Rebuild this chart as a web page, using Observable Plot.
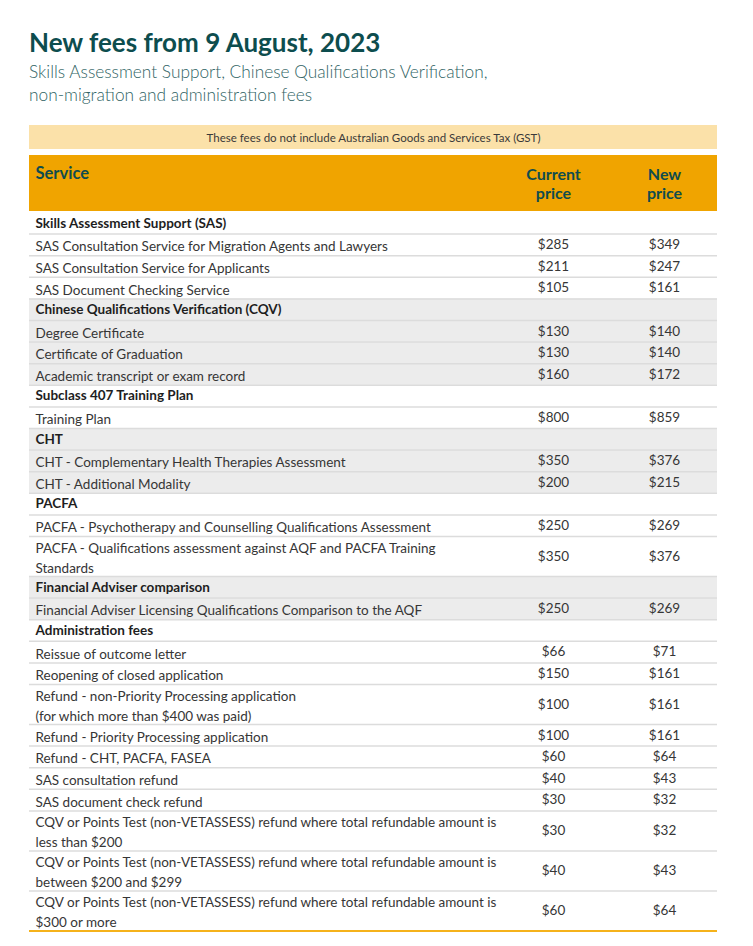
<!DOCTYPE html>
<html>
<head>
<meta charset="utf-8">
<script src="https://cdn.jsdelivr.net/npm/d3@7"></script>
<script src="https://cdn.jsdelivr.net/npm/@observablehq/plot@0.6"></script>
<style>
  html, body { margin: 0; padding: 0; background: #fff; width: 753px; height: 946px; overflow: hidden; }
  body { position: relative; font-family: Lato, "Noto Sans", sans-serif; }
  #title { position: absolute; left: 29px; top: 27px; font-size: 26px; line-height: 30px; font-weight: 700; color: #0d4d4e; white-space: nowrap; }
  #subtitle { position: absolute; left: 29px; top: 60px; font-size: 17.3px; line-height: 23px; font-weight: 300; color: #2f6364; }
  #chart { position: absolute; left: 0; top: 120px; }
</style>
</head>
<body>
<div id="title"></div>
<div id="subtitle"></div>
<div id="chart"></div>
<script>
const titleText = "New fees from 9 August, 2023";
const subtitleLines = ["Skills Assessment Support, Chinese Qualifications Verification,", "non-migration and administration fees"];
const noteText = "These fees do not include Australian Goods and Services Tax (GST)";
const columnLabels = ["Service", "Current\nprice", "New\nprice"];

const sectionNames = [
  "Skills Assessment Support (SAS)",
  "Chinese Qualifications Verification (CQV)",
  "Subclass 407 Training Plan",
  "CHT",
  "PACFA",
  "Financial Adviser comparison",
  "Administration fees"
];

const serviceNames = [
  "SAS Consultation Service for Migration Agents and Lawyers",
  "SAS Consultation Service for Applicants",
  "SAS Document Checking Service",
  "Degree Certificate",
  "Certificate of Graduation",
  "Academic transcript or exam record",
  "Training Plan",
  "CHT - Complementary Health Therapies Assessment",
  "CHT - Additional Modality",
  "PACFA - Psychotherapy and Counselling Qualifications Assessment",
  "PACFA - Qualifications assessment against AQF and PACFA Training\nStandards",
  "Financial Adviser Licensing Qualifications Comparison to the AQF",
  "Reissue of outcome letter",
  "Reopening of closed application",
  "Refund - non-Priority Processing application\n(for which more than $400 was paid)",
  "Refund - Priority Processing application",
  "Refund - CHT, PACFA, FASEA",
  "SAS consultation refund",
  "SAS document check refund",
  "CQV or Points Test (non-VETASSESS) refund where total refundable amount is\nless than $200",
  "CQV or Points Test (non-VETASSESS) refund where total refundable amount is\nbetween $200 and $299",
  "CQV or Points Test (non-VETASSESS) refund where total refundable amount is\n$300 or more"
];

const serviceSection = [0,0,0,1,1,1,2,3,3,4,4,5,6,6,6,6,6,6,6,6,6,6];
const currentPrice = [285,211,105,130,130,160,800,350,200,250,350,250,66,150,100,100,60,40,30,30,40,60];
const newPrice     = [349,247,161,140,140,172,859,376,215,269,376,269,71,161,161,161,64,43,32,32,43,64];

// ---- layout (pixels within the SVG) ----
const bandTop = 5, bandBottom = 29;
const headTop = 35, headBottom = 91;
const rowsTop = 92;
const singleH = 21.6, extraLineH = 18.4;

const rows = [];
let yCursor = rowsTop;
sectionNames.forEach((sec, si) => {
  const push = (name, cur, nw, isHeader) => {
    const lines = name.split("\n").length;
    const h = singleH + extraLineH * (lines - 1);
    rows.push({name, cur, nw, isHeader, section: si, y1: yCursor, y2: yCursor + h, yc: yCursor + h / 2});
    yCursor += h;
  };
  push(sec, null, null, true);
  serviceNames.forEach((s, i) => {
    if (serviceSection[i] === si) push(s, currentPrice[i], newPrice[i], false);
  });
});
rows[rows.length - 1].last = true;
const totalH = 826;

const colX = {service: 0, current: 0.7616, nw: 0.9230};
const fmt = v => "$" + v;

const grayRows = rows.filter(r => r.section % 2 === 1);
const dataRows = rows.filter(r => !r.isHeader);
const headerRows = rows.filter(r => r.isHeader);

const chart = Plot.plot({
  width: 753,
  height: totalH,
  margin: 0,
  x: {domain: [0, 1], range: [29, 717], axis: null},
  y: {domain: [0, totalH], range: [0, totalH], axis: null},
  style: {fontFamily: "Lato, 'Noto Sans', sans-serif", fontSize: "13.5px", background: "transparent"},
  marks: [
    // GST note band
    Plot.rect([noteText], {x1: () => 0, x2: () => 1, y1: () => bandTop, y2: () => bandBottom, fill: "#fbe1a9"}),
    Plot.text([noteText], {x: () => 0.5, y: () => (bandTop + bandBottom) / 2 + 1, text: d => d, fontSize: 11.5, fill: "#3a3a3a", textAnchor: "middle"}),
    // header band
    Plot.rect([0], {x1: () => 0, x2: () => 1, y1: () => headTop, y2: () => headBottom, fill: "#f0a400"}),
    Plot.text([columnLabels[0]], {x: () => colX.service, dx: 6, y: () => headTop + 12, text: d => d, lineAnchor: "top", textAnchor: "start", fontWeight: 700, fontSize: 16.5, fill: "#0f4c4e"}),
    Plot.text([columnLabels[1]], {x: () => colX.current, y: () => headTop + 11, text: d => d, lineAnchor: "top", textAnchor: "middle", fontWeight: 700, fontSize: 16, lineHeight: 1.2, fill: "#0f4c4e"}),
    Plot.text([columnLabels[2]], {x: () => colX.nw, y: () => headTop + 11, text: d => d, lineAnchor: "top", textAnchor: "middle", fontWeight: 700, fontSize: 16, lineHeight: 1.2, fill: "#0f4c4e"}),
    // gray section backgrounds
    Plot.rect(grayRows, {x1: () => 0, x2: () => 1, y1: "y1", y2: "y2", fill: "#ececec"}),
    // row separators
    Plot.ruleY(rows.filter(r => !r.last), {y: "y2", x1: () => 0, x2: () => 1, stroke: "#dcdcdc", strokeWidth: 1.5}),
    Plot.ruleY(rows.filter(r => r.last), {y: "y2", x1: () => 0, x2: () => 1, stroke: "#f5b21b", strokeWidth: 2}),
    // section headers
    Plot.text(headerRows, {x: () => colX.service, dx: 6, y: "yc", text: "name", textAnchor: "start", fontWeight: 700, fill: "#1e1e1e"}),
    // service names
    Plot.text(dataRows, {x: () => colX.service, dx: 6, y: "yc", text: "name", textAnchor: "start", lineHeight: 1.48, fill: "#363636"}),
    // prices
    Plot.text(dataRows, {x: () => colX.current, y: "yc", text: d => fmt(d.cur), textAnchor: "middle", fill: "#363636"}),
    Plot.text(dataRows, {x: () => colX.nw, y: "yc", text: d => fmt(d.nw), textAnchor: "middle", fill: "#363636"})
  ]
});

document.getElementById("title").textContent = titleText;
document.getElementById("subtitle").innerHTML = subtitleLines.map(l => `<div>${l}</div>`).join("");
document.getElementById("chart").appendChild(chart);
</script>
</body>
</html>
